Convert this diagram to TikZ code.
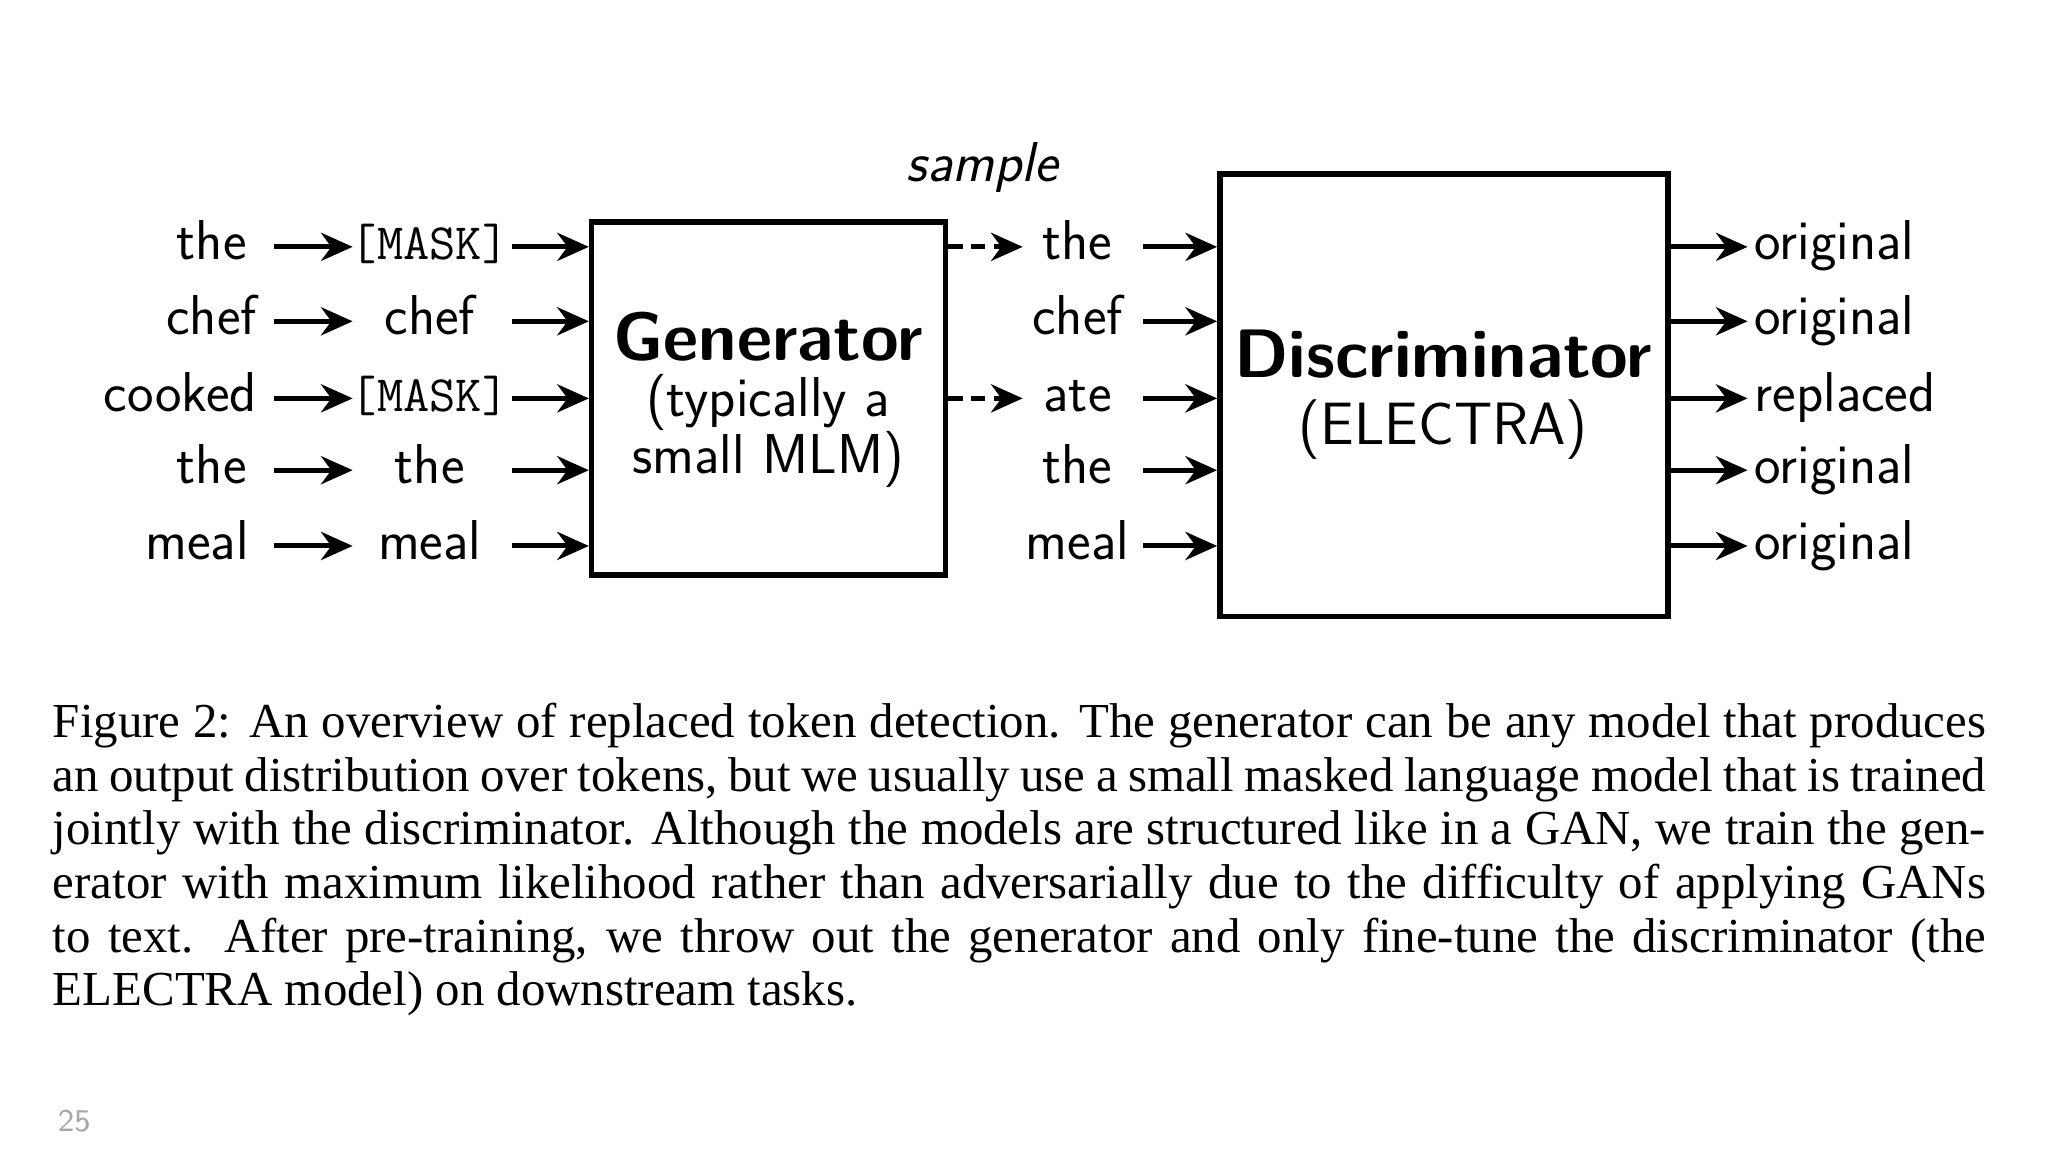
\documentclass[tikz,border=0pt]{standalone}
\usepackage{fontspec}
\newfontfamily\capfont{Liberation Serif}
\usetikzlibrary{arrows.meta}
\begin{document}
\begin{tikzpicture}[x=0.01306cm,y=-0.01306cm,
  tok/.style={font=\fontsize{16}{19}\selectfont\sffamily,inner sep=0pt,anchor=base},
  arr/.style={-{Stealth[length=9pt,width=8pt]},line width=1.4pt},
  darr/.style={arr,dash pattern=on 4pt off 2.5pt},
  box/.style={draw,line width=1.6pt}]
\useasboundingbox (0,0) rectangle (1568,882);
\fill[white] (0,0) rectangle (1568,882);
\node[font=\fontsize{9}{10}\selectfont\sffamily,text=gray!70] (pg) at (57,858) {25};
% boxes
\node[box,minimum width=271*0.01306cm,minimum height=270*0.01306cm] (gen) at (588.5,305) {};
\node[box,minimum width=343*0.01306cm,minimum height=339*0.01306cm] (dis) at (1105.5,302.5) {};
\node[align=center,font=\fontsize{16}{16}\selectfont\sffamily] (gt) at (588,306) {{\fontsize{19.5}{21}\selectfont\bfseries Generator}\\(typically a\\small MLM)};
\node[align=center,font=\fontsize{17}{19}\selectfont\sffamily] (dt) at (1105,302) {{\fontsize{19.5}{21}\selectfont\bfseries Discriminator}\\(ELECTRA)};
\node[font=\fontsize{16}{19}\selectfont\sffamily\itshape] (smp) at (752,128) {sample};
% rows
\foreach \i/\y/\a/\ax/\b/\c/\o in {1/189/the/162/{\ttfamily\fontsize{14.5}{17}\selectfont[MASK]}/the/original,2/246/chef/162/chef/chef/original,3/305/cooked/138/{\ttfamily\fontsize{14.5}{17}\selectfont[MASK]}/ate/replaced,4/360/the/162/the/the/original,5/418/meal/151/meal/meal/original}{
  \node[tok] (a\i) at (\ax,\y+10) {\a};
  \node[tok] (b\i) at (329,\y+10) {\b};
  \node[tok] (c\i) at (825,\y+10) {\c};
  \node[tok,anchor=base west] (o\i) at (1343,\y+10) {\o};
  \coordinate (p\i) at (210,\y); \coordinate (q\i) at (270,\y);
  \coordinate (r\i) at (392,\y); \coordinate (s\i) at (875,\y);
  \coordinate (t\i) at (1279,\y); \coordinate (u\i) at (1338,\y);
  \draw[arr] (p\i) -- (q\i);
  \draw[arr] (r\i) -- (r\i -| gen.west);
  \draw[arr] (s\i) -- (s\i -| dis.west);
  \draw[arr] (t\i) -- (u\i);
}
\coordinate (d1) at (783,189); \coordinate (d3) at (783,305);
\draw[darr] (d1 -| gen.east) -- (d1);
\draw[darr] (d3 -| gen.east) -- (d3);
% caption
\node[anchor=north west,inner sep=0pt,text width=1480*0.01306cm,align=justify,
  font=\capfont\fontsize{13.9}{15.25}\selectfont] (cap) at (40,538)
{Figure 2: An overview of replaced token detection. The generator can be any model that produces an output distribution over tokens, but we usually use a small masked language model that is trained jointly with the discriminator. Although the models are structured like in a GAN, we train the generator with maximum likelihood rather than adversarially due to the difficulty of applying GANs to text. After pre-training, we throw out the generator and only fine-tune the discriminator (the ELECTRA model) on downstream tasks.};
\end{tikzpicture}
\end{document}
